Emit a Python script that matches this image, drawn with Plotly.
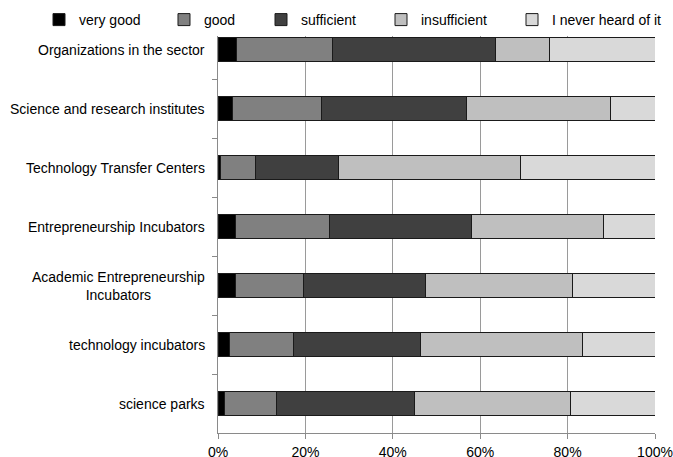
import plotly.graph_objects as go

categories = [
    "Organizations in the sector",
    "Science and research institutes",
    "Technology Transfer Centers",
    "Entrepreneurship Incubators",
    "Academic Entrepreneurship<br>Incubators",
    "technology incubators",
    "science parks",
]
series_names = ["very good", "good", "sufficient", "insufficient", "I never heard of it"]
very_good = [4.3, 3.4, 0.6, 3.9, 3.9, 2.7, 1.6]
good = [21.8, 20.3, 8.0, 21.7, 15.7, 14.6, 11.8]
sufficient = [37.3, 33.2, 18.9, 32.5, 27.8, 29.0, 31.5]
insufficient = [12.4, 32.9, 41.7, 30.0, 33.7, 37.0, 35.8]
never_heard = [24.2, 10.2, 30.8, 11.9, 18.9, 16.7, 19.3]
colors = ["#000000", "#808080", "#404040", "#bfbfbf", "#d9d9d9"]
x_ticks = [0, 20, 40, 60, 80, 100]

series = [very_good, good, sufficient, insufficient, never_heard]
legend_ids = ["legend", "legend2", "legend3", "legend4", "legend5"]
legend_x = [-0.4096, -0.1236, 0.0984, 0.373, 0.6728]

FONT = "Liberation Sans, Arial"

fig = go.Figure()
for name, vals, col, lid in zip(series_names, series, colors, legend_ids):
    fig.add_trace(go.Bar(
        y=categories, x=vals, name=name, orientation="h", legend=lid,
        marker=dict(color=col, line=dict(color="#1a1a1a", width=1)),
    ))

for c in categories:
    fig.add_annotation(
        x=0, xref="paper", y=c, yref="y", text=c, showarrow=False,
        xanchor="right", align="center", xshift=-11,
        font=dict(family=FONT, size=14, color="#000000"),
    )

legend_layout = {}
for lid, lx in zip(legend_ids, legend_x):
    legend_layout[lid] = dict(
        orientation="h", x=lx, y=1.0, xanchor="left", yanchor="middle",
        bgcolor="rgba(255,255,255,1)",
        font=dict(family=FONT, size=14, color="#000000"),
        itemwidth=30,
    )

fig.update_layout(
    width=673, height=457,
    margin=dict(l=218, r=18, t=20, b=24, autoexpand=False),
    barmode="stack", bargap=0.6,
    plot_bgcolor="white", paper_bgcolor="white",
    font=dict(family=FONT, size=14, color="#000000"),
    showlegend=True,
    xaxis=dict(
        range=[0, 100], tickvals=x_ticks, ticktext=[f"{v}%" for v in x_ticks],
        showgrid=True, gridcolor="#9a9a9a", gridwidth=1,
        showline=True, linecolor="#8a8a8a", linewidth=1,
        ticks="outside", ticklen=5, tickcolor="#8a8a8a",
        ticklabelstandoff=1,
        zeroline=False, fixedrange=True, automargin=False,
    ),
    yaxis=dict(
        categoryorder="array", categoryarray=categories, autorange="reversed",
        showticklabels=False, showgrid=False,
        showline=True, linecolor="#8a8a8a", linewidth=1,
        ticks="outside", ticklen=5, tickcolor="#8a8a8a", tickson="boundaries",
        automargin=False,
    ),
    **legend_layout,
)

fig.write_html("out.html")
